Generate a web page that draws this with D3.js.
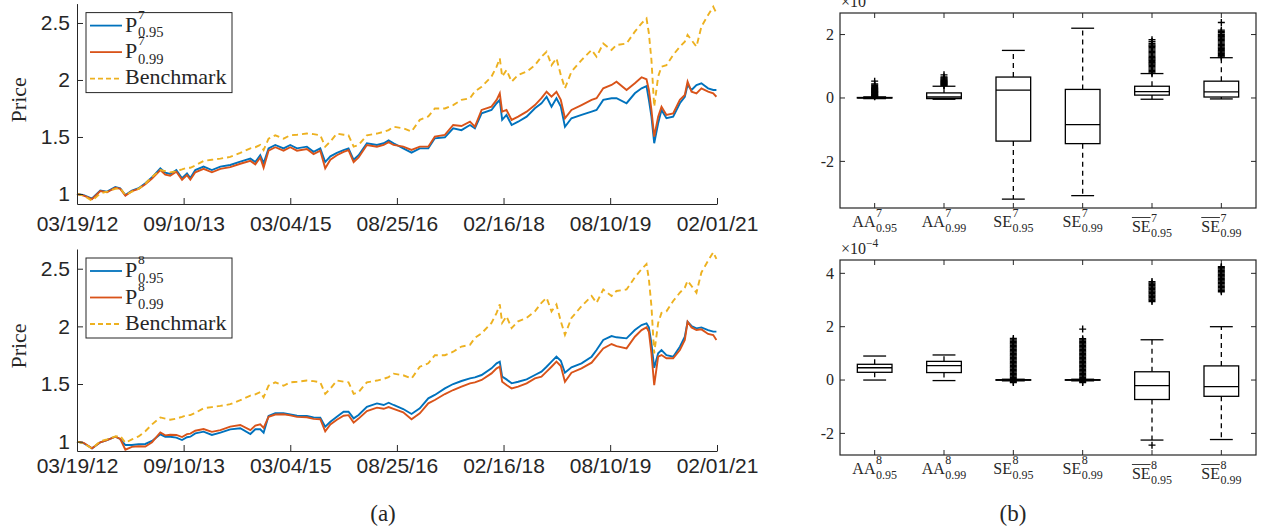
<!DOCTYPE html>
<html>
<head>
<meta charset="utf-8">
<script src="https://cdn.jsdelivr.net/npm/d3@7.9.0/dist/d3.min.js"></script>
<style>
  body { margin: 0; background: #fff; }
  svg text { fill: #262626; }
  .serif { font-family: "Liberation Serif", "DejaVu Serif", serif; }
  .sans { font-family: "Liberation Sans", Arial, sans-serif; }
</style>
</head>
<body>
<svg id="chart" width="1262" height="531"></svg>
<script>
// sample dates shared by all price series
const dates = [
  "2012-03-19","2012-04-22","2012-06-03","2012-07-15","2012-08-18","2012-09-29","2012-10-24","2012-11-19","2012-12-22","2013-01-25",
  "2013-02-28","2013-04-03","2013-05-15","2013-06-09","2013-07-04","2013-08-04","2013-09-02","2013-09-27","2013-10-14","2013-11-08",
  "2013-12-20","2014-01-31","2014-03-15","2014-05-04","2014-06-24","2014-08-14","2014-09-08","2014-10-03","2014-10-20","2014-11-14",
  "2014-12-18","2015-01-29","2015-03-04","2015-04-07","2015-05-27","2015-06-30","2015-08-03","2015-08-28","2015-09-23","2015-10-26",
  "2015-11-29","2015-12-24","2016-01-19","2016-02-13","2016-03-26","2016-05-16","2016-06-19","2016-07-14","2016-08-08",
  "2016-09-26","2016-11-07","2016-12-19","2017-01-31","2017-03-05","2017-04-25","2017-06-06","2017-07-18","2017-08-30","2017-09-24",
  "2017-10-28","2017-12-17","2018-01-12","2018-01-28","2018-02-09","2018-03-03","2018-03-29","2018-05-01","2018-06-13","2018-07-25",
  "2018-08-27","2018-09-22","2018-10-17","2018-11-11","2018-12-03","2018-12-24","2019-01-26","2019-03-18","2019-05-08","2019-06-02",
  "2019-07-06","2019-08-17","2019-09-11","2019-11-01","2019-12-13","2020-01-16","2020-02-10","2020-02-22","2020-03-06","2020-03-20",
  "2020-04-09","2020-04-26","2020-05-21","2020-06-24","2020-07-28","2020-08-22","2020-09-05","2020-09-25","2020-10-20","2020-11-14",
  "2020-12-18","2021-01-13","2021-01-29"];

const p7_095 = [1.00,0.99,0.96,1.03,1.02,1.06,1.05,0.99,1.03,1.05,
  1.094,1.146,1.225,1.187,1.175,1.21,1.138,1.18,1.14,1.21,
  1.24,1.21,1.24,1.254,1.283,1.31,1.28,1.34,1.27,1.40,
  1.43,1.40,1.43,1.40,1.415,1.37,1.40,1.28,1.33,1.36,
  1.385,1.40,1.30,1.34,1.445,1.43,1.445,1.47,1.445,
  1.40,1.362,1.40,1.40,1.488,1.497,1.576,1.56,1.605,1.576,
  1.708,1.737,1.796,1.825,1.65,1.693,1.605,1.634,1.678,1.752,
  1.796,1.853,1.766,1.84,1.766,1.59,1.664,1.693,1.722,1.737,
  1.825,1.84,1.84,1.796,1.883,1.927,1.947,1.825,1.678,1.445,
  1.62,1.737,1.664,1.678,1.796,1.853,1.956,1.912,1.956,1.971,
  1.927,1.912,1.912];
const p7_099 = [1.00,0.985,0.955,1.025,1.015,1.055,1.045,0.985,1.025,1.045,
  1.085,1.135,1.21,1.17,1.16,1.195,1.125,1.165,1.125,1.19,
  1.22,1.19,1.22,1.235,1.265,1.29,1.26,1.32,1.23,1.38,
  1.41,1.38,1.41,1.38,1.395,1.35,1.38,1.225,1.30,1.34,
  1.37,1.385,1.28,1.32,1.43,1.415,1.43,1.455,1.43,
  1.415,1.386,1.415,1.415,1.503,1.518,1.605,1.596,1.634,1.59,
  1.737,1.766,1.825,1.883,1.722,1.737,1.65,1.678,1.722,1.78,
  1.84,1.897,1.853,1.897,1.825,1.664,1.737,1.78,1.825,1.84,
  1.927,1.956,1.985,1.912,1.971,2.024,2.006,1.912,1.737,1.503,
  1.678,1.766,1.693,1.707,1.825,1.868,1.985,1.897,1.883,1.927,
  1.897,1.883,1.853];
const p8_095 = [1.00,0.986,0.942,0.994,1.014,1.043,1.023,0.971,0.971,0.977,
  0.98,1.006,1.064,1.043,1.043,1.035,1.014,1.038,1.043,1.072,
  1.087,1.058,1.078,1.107,1.116,1.066,1.107,1.107,1.078,1.223,
  1.246,1.246,1.237,1.225,1.223,1.211,1.208,1.13,1.173,1.217,
  1.26,1.26,1.202,1.231,1.303,1.332,1.318,1.338,1.318,
  1.283,1.24,1.289,1.376,1.405,1.462,1.50,1.526,1.549,1.558,
  1.578,1.636,1.679,1.694,1.564,1.54,1.506,1.52,1.54,1.578,
  1.607,1.65,1.694,1.737,1.702,1.598,1.645,1.679,1.737,1.795,
  1.882,1.916,1.905,1.896,1.968,2.012,2.026,1.991,1.853,1.64,
  1.766,1.795,1.751,1.737,1.824,1.91,2.04,2.003,1.983,1.991,
  1.968,1.954,1.954];
const p8_099 = [1.00,0.99,0.942,0.994,1.014,1.043,1.023,0.93,0.955,0.96,
  0.958,0.995,1.08,1.055,1.06,1.058,1.04,1.065,1.07,1.095,
  1.11,1.085,1.10,1.13,1.145,1.10,1.14,1.15,1.12,1.215,
  1.235,1.238,1.228,1.215,1.212,1.198,1.195,1.09,1.15,1.19,
  1.225,1.23,1.165,1.20,1.265,1.295,1.285,1.30,1.285,
  1.254,1.194,1.246,1.332,1.361,1.413,1.448,1.477,1.506,1.514,
  1.535,1.592,1.636,1.65,1.52,1.491,1.462,1.477,1.506,1.549,
  1.564,1.607,1.65,1.694,1.656,1.52,1.598,1.636,1.685,1.737,
  1.809,1.847,1.829,1.809,1.91,1.968,1.991,1.954,1.766,1.49,
  1.737,1.751,1.723,1.723,1.795,1.882,2.04,1.991,1.968,1.974,
  1.934,1.925,1.882];
const benchmark = [1.00,0.985,0.94,1.005,1.02,1.045,1.05,0.99,1.02,1.045,
  1.09,1.15,1.21,1.20,1.19,1.20,1.215,1.23,1.23,1.25,
  1.29,1.30,1.31,1.325,1.36,1.40,1.41,1.43,1.385,1.485,
  1.515,1.485,1.515,1.52,1.53,1.525,1.515,1.415,1.46,1.53,
  1.52,1.515,1.415,1.43,1.515,1.53,1.545,1.56,1.59,
  1.576,1.547,1.65,1.68,1.75,1.75,1.78,1.825,1.84,1.90,
  1.94,2.03,2.117,2.19,2.03,2.088,1.985,2.044,2.073,2.13,
  2.204,2.248,2.13,2.19,2.044,1.927,2.073,2.175,2.263,2.204,
  2.32,2.263,2.307,2.32,2.424,2.497,2.54,2.41,2.175,1.766,
  2.03,2.117,2.13,2.22,2.292,2.336,2.395,2.35,2.292,2.468,
  2.57,2.643,2.585];

const xTickLabels = ["03/19/12","09/10/13","03/04/15","08/25/16","02/16/18","08/10/19","02/01/21"];
const priceTicks = [1, 1.5, 2, 2.5];

// box plots (values x 1e-4)
const boxBase = ["AA","AA","SE","SE","SE","SE"];
const boxBar  = [false,false,false,false,true,true];
const boxSub  = ["0.95","0.99","0.95","0.99","0.95","0.99"];

const box7Q1   = [0.0, -0.02, -1.36, -1.44, 0.09, 0.03];
const box7Med  = [0.005, 0.03, 0.25, -0.84, 0.20, 0.19];
const box7Q3   = [0.015, 0.16, 0.66, 0.27, 0.37, 0.53];
const box7Low  = [-0.02, -0.04, -3.19, -3.08, -0.04, -0.03];
const box7High = [0.035, 0.37, 1.50, 2.20, 0.77, 1.27];
const box7Out  = [
  [0.04,0.06,0.07,0.09,0.11,0.12,0.14,0.16,0.18,0.19,0.21,0.23,0.25,0.27,0.29,0.31,0.33,0.36,0.40,0.44,0.53],
  [0.39,0.41,0.43,0.45,0.47,0.49,0.51,0.53,0.55,0.57,0.60,0.63,0.66,0.73],
  [], [],
  [0.79,0.83,0.87,0.91,0.95,0.99,1.03,1.07,1.11,1.15,1.19,1.23,1.27,1.31,1.35,1.39,1.43,1.47,1.51,1.55,1.59,1.63,1.67,1.72,1.78,1.84],
  [1.29,1.33,1.37,1.41,1.45,1.49,1.53,1.57,1.61,1.65,1.69,1.73,1.77,1.81,1.85,1.89,1.93,1.97,2.01,2.06,2.10,2.14,2.38]
];
const box7Ticks = [-2, 0, 2];

const box8Q1   = [0.29, 0.28, 0.0, 0.0, -0.73, -0.61];
const box8Med  = [0.46, 0.54, 0.005, 0.005, -0.21, -0.25];
const box8Q3   = [0.59, 0.70, 0.012, 0.012, 0.31, 0.53];
const box8Low  = [0.0, -0.02, -0.03, -0.03, -2.25, -2.23];
const box8High = [0.90, 0.94, 0.03, 0.03, 1.51, 2.00];
const box8Out  = [
  [], [],
  [-0.09,-0.06,0.05,0.1,0.15,0.2,0.25,0.3,0.35,0.4,0.45,0.5,0.55,0.6,0.65,0.7,0.75,0.8,0.85,0.9,0.95,1.0,1.05,1.1,1.15,1.2,1.25,1.3,1.35,1.4,1.45,1.5,1.56],
  [-0.09,-0.06,0.05,0.1,0.15,0.2,0.25,0.3,0.35,0.4,0.45,0.5,0.55,0.6,0.65,0.7,0.75,0.8,0.85,0.9,0.95,1.0,1.05,1.1,1.15,1.2,1.25,1.3,1.35,1.4,1.45,1.5,1.55,1.91],
  [2.94,2.99,3.04,3.09,3.14,3.19,3.24,3.29,3.34,3.39,3.44,3.49,3.54,3.59,3.64,3.69,-2.44],
  [3.31,3.36,3.41,3.46,3.51,3.56,3.61,3.66,3.71,3.76,3.81,3.86,3.91,3.96,4.01,4.06,4.11,4.16,4.21,4.25]
];
const box8Ticks = [-2, 0, 2, 4];

const C_BLUE = "#0072BD", C_RED = "#D95319", C_YEL = "#EDB120", C_AX = "#262626";

const svg = d3.select("#chart");
const parseDate = d3.timeParse("%Y-%m-%d");
const parseTick = d3.timeParse("%m/%d/%y");
const dateVals = dates.map(parseDate);

function linePanel(top, bottom, yDomain, s95, s99, sup, xPad) {
  const x = d3.scaleTime().domain([parseTick("03/19/12"), parseTick("02/01/21")]).range([77, 717]);
  const y = d3.scaleLinear().domain(yDomain).range([bottom, top]);
  const g = svg.append("g");

  const line = d3.line().x((d, i) => x(dateVals[i])).y(d => y(d));
  g.append("path").attr("d", line(s95)).attr("fill", "none").attr("stroke", C_BLUE).attr("stroke-width", 1.9);
  g.append("path").attr("d", line(s99)).attr("fill", "none").attr("stroke", C_RED).attr("stroke-width", 1.9);
  g.append("path").attr("d", line(benchmark)).attr("fill", "none").attr("stroke", C_YEL)
    .attr("stroke-width", 1.9).attr("stroke-dasharray", "6,4");

  const xa = g.append("g").attr("transform", `translate(0,${bottom})`)
    .call(d3.axisBottom(x).tickValues(xTickLabels.map(parseTick)).tickFormat(d3.timeFormat("%m/%d/%y"))
      .tickSizeInner(-6).tickSizeOuter(0).tickPadding(xPad));
  const ya = g.append("g").attr("transform", "translate(77,0)")
    .call(d3.axisLeft(y).tickValues(priceTicks).tickFormat(d3.format("")).tickSizeInner(-6).tickSizeOuter(0).tickPadding(7));
  [xa, ya].forEach(a => {
    a.selectAll("path, line").attr("stroke", C_AX).attr("stroke-width", 1);
    a.selectAll("text").attr("class", "sans").style("font-size", "21px").attr("fill", C_AX);
  });

  g.append("text").attr("class", "serif").style("font-size", "22px").attr("text-anchor", "middle")
    .attr("transform", `translate(26,${(top + bottom) / 2 - 4}) rotate(-90)`).text("Price");

  // legend
  const lg = g.append("g").attr("transform", `translate(86,${top + 9})`);
  lg.append("rect").attr("width", 146).attr("height", 80).attr("fill", "#fff").attr("stroke", C_AX).attr("stroke-width", 1);
  const rows = [
    { c: C_BLUE, dash: null, sub: "0.95" },
    { c: C_RED, dash: null, sub: "0.99" },
    { c: C_YEL, dash: "5,3", label: "Benchmark" }
  ];
  rows.forEach((r, i) => {
    const cy = 13 + i * 26.5;
    lg.append("line").attr("x1", 4).attr("x2", 36).attr("y1", cy).attr("y2", cy)
      .attr("stroke", r.c).attr("stroke-width", 1.8).attr("stroke-dasharray", r.dash);
    if (r.label) {
      lg.append("text").attr("class", "serif").style("font-size", "22px").attr("x", 39).attr("y", cy + 5.5).text(r.label);
    } else {
      lg.append("text").attr("class", "serif").style("font-size", "22px").attr("x", 39).attr("y", cy + 6).text("P");
      lg.append("text").attr("class", "serif").style("font-size", "13.5px").attr("x", 52).attr("y", cy - 7).text(sup);
      lg.append("text").attr("class", "serif").style("font-size", "14.5px").attr("x", 52).attr("y", cy + 11.5).text(r.sub);
    }
  });
}

function boxPanel(top, bottom, yDomain, ticks, sup, q1, med, q3, lo, hi, outs) {
  const names = boxSub.map((s, i) => (boxBar[i] ? "bar" : "") + boxBase[i] + s);
  const x = d3.scaleBand().domain(names).range([840, 1256]);
  const y = d3.scaleLinear().domain(yDomain).range([bottom, top]);
  const g = svg.append("g");
  const bw = x.bandwidth();

  // frame
  g.append("rect").attr("x", 840).attr("y", top).attr("width", 416).attr("height", bottom - top)
    .attr("fill", "none").attr("stroke", C_AX).attr("stroke-width", 1.2);
  names.forEach(n => {
    const cx = x(n) + bw / 2;
    g.append("line").attr("x1", cx).attr("x2", cx).attr("y1", bottom).attr("y2", bottom - 5).attr("stroke", C_AX);
    g.append("line").attr("x1", cx).attr("x2", cx).attr("y1", top).attr("y2", top + 5).attr("stroke", C_AX);
  });
  ticks.forEach(t => {
    g.append("line").attr("x1", 840).attr("x2", 845).attr("y1", y(t)).attr("y2", y(t)).attr("stroke", C_AX);
    g.append("line").attr("x1", 1256).attr("x2", 1251).attr("y1", y(t)).attr("y2", y(t)).attr("stroke", C_AX);
    g.append("text").attr("class", "serif").style("font-size", "16px").attr("text-anchor", "end")
      .attr("x", 834).attr("y", y(t)).attr("dy", "0.34em").text(t < 0 ? "-" + Math.abs(t) : t);
  });

  // x 10^-4 label
  const ex = g.append("text").attr("class", "serif").attr("x", 841).attr("y", top - 6.5).style("font-size", "16px");
  ex.append("tspan").text("\u00d710");
  ex.append("tspan").attr("dy", -7).style("font-size", "11.5px").text("\u22124");

  // boxes
  names.forEach((n, i) => {
    const cx = x(n) + bw / 2, hw = bw * 0.25, cw = bw * 0.165;
    const bg = g.append("g").attr("stroke", "#000").attr("stroke-width", 1.3).attr("fill", "none");
    bg.append("line").attr("x1", cx).attr("x2", cx).attr("y1", y(q3[i])).attr("y2", y(hi[i])).attr("stroke-dasharray", "5,4");
    bg.append("line").attr("x1", cx).attr("x2", cx).attr("y1", y(q1[i])).attr("y2", y(lo[i])).attr("stroke-dasharray", "5,4");
    bg.append("line").attr("x1", cx - cw).attr("x2", cx + cw).attr("y1", y(hi[i])).attr("y2", y(hi[i]));
    bg.append("line").attr("x1", cx - cw).attr("x2", cx + cw).attr("y1", y(lo[i])).attr("y2", y(lo[i]));
    bg.append("rect").attr("x", cx - hw).attr("width", 2 * hw)
      .attr("y", y(q3[i])).attr("height", Math.max(0.5, y(q1[i]) - y(q3[i])));
    bg.append("line").attr("x1", cx - hw).attr("x2", cx + hw).attr("y1", y(med[i])).attr("y2", y(med[i]));
    outs[i].forEach(v => {
      bg.append("path").attr("d", `M${cx - 3.5},${y(v)}H${cx + 3.5}M${cx},${y(v) - 3.5}V${y(v) + 3.5}`).attr("stroke-width", 1.4);
    });

    // category label
    const bar = boxBar[i];
    const base = bottom + (bar ? 24 : 19);
    const lab = g.append("g");
    const tMain = lab.append("text").attr("class", "serif").style("font-size", "16px").attr("y", base).text(boxBase[i]);
    const wMain = tMain.node().getComputedTextLength();
    const tSub = lab.append("text").attr("class", "serif").style("font-size", "12px").attr("x", wMain + 0.5).attr("y", base + 4.5).text(boxSub[i]);
    lab.append("text").attr("class", "serif").style("font-size", "12px").attr("x", wMain + 0.5).attr("y", base - 10.5).text(sup);
    if (bar) {
      lab.append("line").attr("x1", 0).attr("x2", wMain).attr("y1", base - 14.5).attr("y2", base - 14.5)
        .attr("stroke", C_AX).attr("stroke-width", 0.9);
    }
    const total = wMain + 0.5 + tSub.node().getComputedTextLength();
    lab.attr("transform", `translate(${cx - total / 2},0)`);
  });
}

linePanel(3.6, 204, [0.912, 2.67], p7_095, p7_099, "7", 12);
linePanel(249, 451, [0.919, 2.671], p8_095, p8_099, "8", 7);
boxPanel(13, 208, [-3.47, 2.68], box7Ticks, "7", box7Q1, box7Med, box7Q3, box7Low, box7High, box7Out);
boxPanel(260, 455, [-2.81, 4.5], box8Ticks, "8", box8Q1, box8Med, box8Q3, box8Low, box8High, box8Out);

svg.append("text").attr("class", "serif").style("font-size", "23px").attr("text-anchor", "middle")
  .attr("x", 383).attr("y", 521).text("(a)");
svg.append("text").attr("class", "serif").style("font-size", "23px").attr("text-anchor", "middle")
  .attr("x", 1013).attr("y", 521).text("(b)");
</script>
</body>
</html>
